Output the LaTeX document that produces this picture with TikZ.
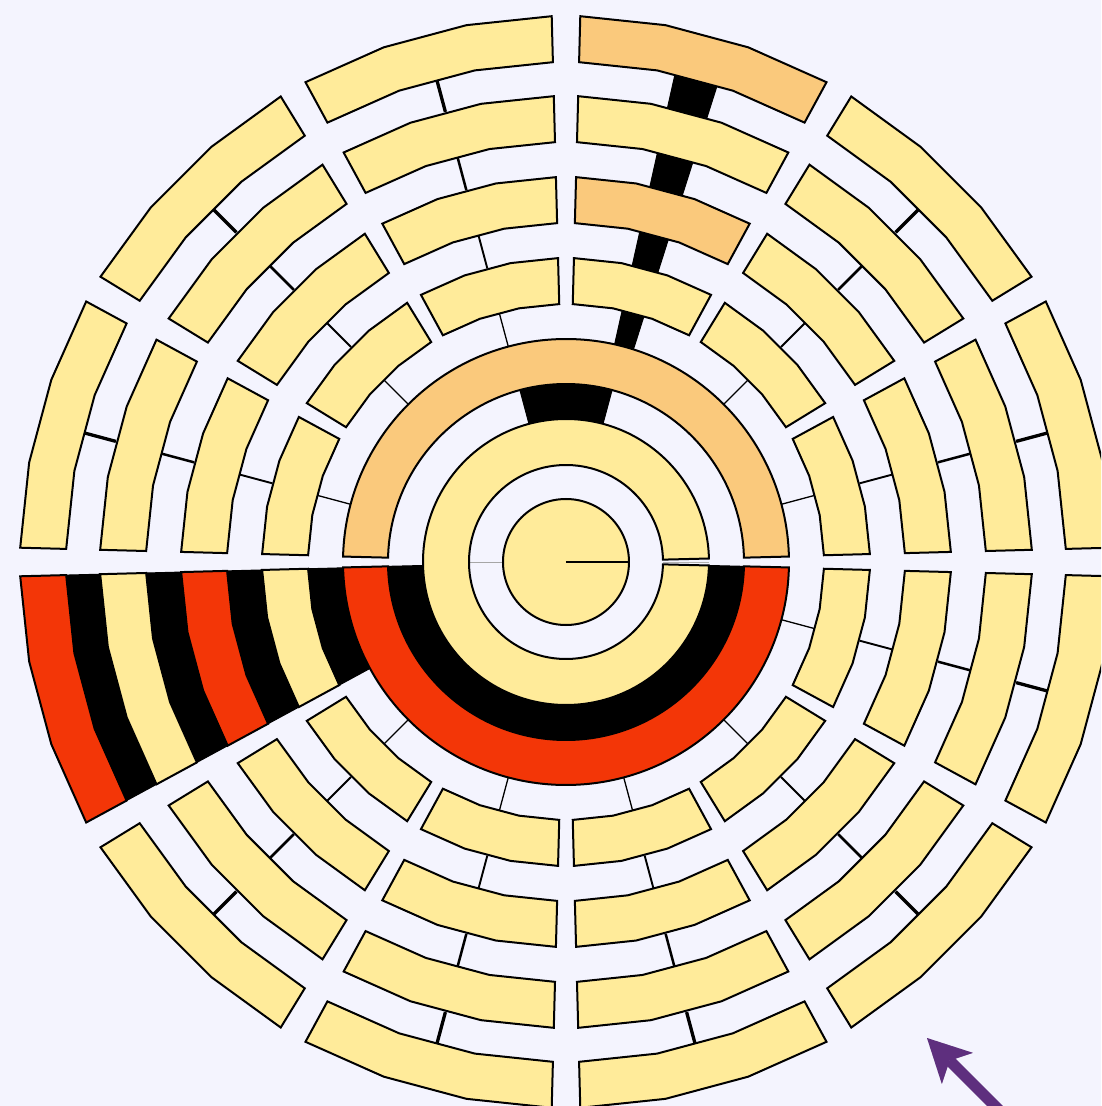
\documentclass[tikz,border=0pt]{standalone}
\usetikzlibrary{arrows.meta}
\definecolor{bgc}{HTML}{F4F4FE}
\definecolor{yel}{HTML}{FFEB9A}
\definecolor{org}{HTML}{FAC97C}
\definecolor{rd}{HTML}{F33607}
\definecolor{arrc}{HTML}{5E2F7E}
% polygonal annular sector (3 chord segments per arc)
\newcommand\pgsect[5]{\path[#5] (#1:#3pt) -- (#1:#4pt) -- ({#1+(#2-#1)/3}:#4pt) -- ({#1+2*(#2-#1)/3}:#4pt) -- (#2:#4pt) -- (#2:#3pt) -- ({#1+2*(#2-#1)/3}:#3pt) -- ({#1+(#2-#1)/3}:#3pt) -- cycle;}
% smooth annular sector
\newcommand\smsect[5]{\path[#5] (#1:#3pt) -- (#1:#4pt) arc[start angle=#1, end angle=#2, radius=#4pt] -- (#2:#3pt) arc[start angle=#2, end angle=#1, radius=#3pt] -- cycle;}
\begin{document}
\begin{tikzpicture}[x=1pt,y=1pt,
  blockbox/.style={fill=yel, draw=black, line width=2pt},
  orgbox/.style={fill=org, draw=black, line width=2pt},
  redbox/.style={fill=rd, draw=black, line width=2pt},
  linkband/.style={fill=black, draw=black, line width=1pt},
  linkline/.style={draw=black, line cap=butt}]
\useasboundingbox (-566,-544) rectangle (535,562);
\fill[bgc] (-566,-544) rectangle (535,562);
\clip (-566,-544) rectangle (535,562);

% ---- connectors (drawn under the blocks)
\draw[gray!70, line width=0.9pt] (180:63pt) -- (180:97pt);
\smsect{75}{105}{142}{179}{linkband}
\smsect{181.4}{358.6}{142}{179}{linkband}
% highlighted upper chain (sector 60-90)
\pgsect{72.4}{77.4}{222}{259}{linkband}
\pgsect{72.4}{77.4}{303}{340}{linkband}
\pgsect{72.4}{77.4}{384}{421}{linkband}
\pgsect{72.4}{77.4}{465}{501}{linkband}
% highlighted lower chain (sector 180-210)
\pgsect{181.5}{208.5}{222}{259}{linkband}
\pgsect{181.5}{208.5}{303}{340}{linkband}
\pgsect{181.5}{208.5}{384}{421}{linkband}
\pgsect{181.5}{208.5}{465}{501}{linkband}
% thin chains
\foreach \s [evaluate=\s as \m using \s+15] in {0,30,90,120,150,210,240,270,300,330}{
  \draw[linkline, line width=1.3pt] (\m:223pt) -- (\m:258pt);
  \draw[linkline, line width=1.9pt] (\m:304pt) -- (\m:339pt);
  \draw[linkline, line width=2.5pt] (\m:385pt) -- (\m:420pt);
  \draw[linkline, line width=3.3pt] (\m:466pt) -- (\m:500pt);
}

% ---- root and first ring
\fill[yel] (0,0) circle[radius=63pt];
\draw[black, line width=2pt] (0,0) circle[radius=63pt];
\draw[black, line width=1.4pt] (0,0) -- (0:63pt);
\smsect{1.4}{358.6}{97}{143}{blockbox}
\draw[gray!60, line width=0.9pt] (0:97pt) -- (0:143pt);

% ---- second ring
\smsect{1.4}{178.6}{178}{223}{orgbox}
\smsect{181.4}{358.6}{178}{223}{redbox}

% ---- outer blocks
\foreach \s [evaluate=\s as \a using \s+1.5, evaluate=\s as \b using \s+28.5] in {0,30,90,120,150,210,240,270,300,330}{
  \pgsect{\a}{\b}{258}{304}{blockbox}
  \pgsect{\a}{\b}{339}{385}{blockbox}
  \pgsect{\a}{\b}{420}{466}{blockbox}
  \pgsect{\a}{\b}{500}{546}{blockbox}
}
\pgsect{61.5}{88.5}{258}{304}{blockbox}
\pgsect{61.5}{88.5}{339}{385}{orgbox}
\pgsect{61.5}{88.5}{420}{466}{blockbox}
\pgsect{61.5}{88.5}{500}{546}{orgbox}
\pgsect{181.5}{208.5}{258}{304}{blockbox}
\pgsect{181.5}{208.5}{339}{385}{redbox}
\pgsect{181.5}{208.5}{420}{466}{blockbox}
\pgsect{181.5}{208.5}{500}{546}{redbox}

% ---- purple arrow with a faint shadow
\coordinate (arrtail) at (450,-565);
\coordinate (arrtip) at (361,-476);
\foreach \o/\op in {4/0.05,3/0.06,2/0.07}{
  \draw[black, opacity=\op, line width=11pt, shift={(-\o,-\o)}, -{Stealth[length=43pt, width=44pt, inset=11pt, line width=0pt]}] (arrtail) -- (arrtip);
}
\draw[arrc, line width=11pt, -{Stealth[length=43pt, width=44pt, inset=11pt, line width=0pt]}] (arrtail) -- (arrtip);
\end{tikzpicture}
\end{document}
